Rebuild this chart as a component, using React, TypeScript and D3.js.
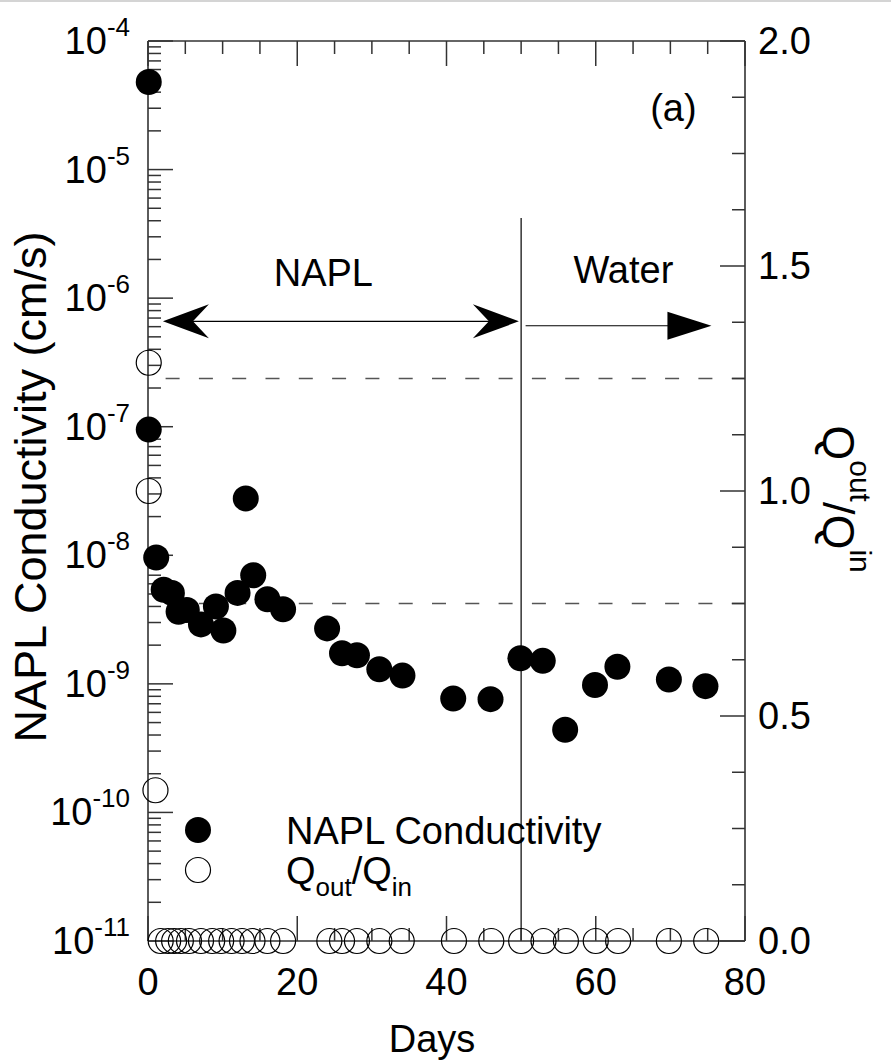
import React from "react";
import * as d3 from "d3";

// ---- data ----
const condDays = [0.1, 0.1, 1.1, 2.1, 3.2, 4.1, 5.2, 7.1, 9.1, 10.1, 12.0, 13.1, 14.1, 16.0, 18.1, 24.0, 26.0, 28.0, 31.0, 34.1, 40.9, 45.9, 49.9, 52.9, 55.9, 59.9, 62.9, 69.8, 74.7];
const condValues = [4.8e-5, 9.5e-8, 9.6e-9, 5.4e-9, 5.1e-9, 3.64e-9, 3.75e-9, 2.9e-9, 4.0e-9, 2.6e-9, 5.1e-9, 2.77e-8, 7.0e-9, 4.55e-9, 3.8e-9, 2.7e-9, 1.73e-9, 1.67e-9, 1.3e-9, 1.16e-9, 7.7e-10, 7.6e-10, 1.58e-9, 1.51e-9, 4.4e-10, 9.8e-10, 1.36e-9, 1.08e-9, 9.6e-10];
const qDays = [0.1, 0.1, 1.0, 1.7, 2.7, 3.5, 4.4, 5.5, 7.1, 8.6, 9.8, 11.2, 12.6, 14.0, 16.0, 18.1, 24.3, 26.0, 28.0, 31.0, 34.0, 41.0, 46.0, 50.0, 53.0, 56.0, 60.0, 63.0, 69.8, 74.8];
const qValues = [1.285, 1.0, 0.335, 0, 0, 0, 0, 0, 0, 0, 0, 0, 0, 0, 0, 0, 0, 0, 0, 0, 0, 0, 0, 0, 0, 0, 0, 0, 0, 0];
const xTickLabels = ["0", "20", "40", "60", "80"];
const xTicks = [0, 20, 40, 60, 80];
const decadeExps = [-11, -10, -9, -8, -7, -6, -5, -4];
const rightTicks = [0, 0.5, 1.0, 1.5, 2.0];
const rightTickLabels = ["0.0", "0.5", "1.0", "1.5", "2.0"];
const dashedLevels = [0.75, 1.25];
const phaseSplitDay = 50;
const phaseLineTop = 4.2e-6;
const napLArrow = { from: 2.0, to: 49.7, level: 6.6e-7 };
const waterArrow = { from: 50.6, to: 75.5, level: 6.1e-7 };

const FONT = "'Liberation Sans', Arial, Helvetica, sans-serif";

export default function App() {
  const W = 891, H = 1063;
  const x = d3.scaleLinear().domain([0, 80]).range([148, 745]);
  const yL = d3.scaleLog().domain([1e-11, 1e-4]).range([941, 41]);
  const yR = d3.scaleLinear().domain([0, 2]).range([941, 41]);
  const [x0, x1] = x.range();
  const [yb, yt] = yL.range();
  const axisColor = "#333";
  const majorLen = 25, minorLen = 13;

  const xMinor = d3.range(0, 81, 5).filter((d) => d % 20 !== 0);
  const logMinor: number[] = [];
  decadeExps.slice(0, -1).forEach((e) => {
    for (let k = 2; k <= 9; k++) logMinor.push(k * Math.pow(10, e));
  });
  const rMinor = d3.range(0, 2.0001, 0.125).filter((v) => Math.abs(v * 2 - Math.round(v * 2)) > 1e-6);

  const tickFont = 38;
  const supFont = 26;
  const titleFont = 45;
  const titleSub = 30;

  const notchedHead = (tx: number, y: number, dir: number) => {
    const L = 46, Wd = 17, N = 30;
    return `M${tx},${y} L${tx - dir * L},${y - Wd} L${tx - dir * N},${y} L${tx - dir * L},${y + Wd} Z`;
  };
  const triHead = (tx: number, y: number, dir: number) => {
    const L = 44, Wd = 14;
    return `M${tx},${y} L${tx - dir * L},${y - Wd} L${tx - dir * L},${y + Wd} Z`;
  };

  const ya1 = yL(napLArrow.level);
  const ya2 = yL(waterArrow.level);

  return (
    <svg width={W} height={H} style={{ position: "absolute", left: 0, top: 0, background: "#fff" }} fontFamily={FONT}>
      <rect x={0} y={0} width={W} height={2} fill="#d4d4d4" />
      {dashedLevels.map((v, i) => (
        <line key={"dash" + i} x1={x0} x2={x1} y1={yR(v)} y2={yR(v)} stroke="#555" strokeWidth={1.5} strokeDasharray="14 19.3" strokeDashoffset={15.7} />
      ))}
      <line x1={x(phaseSplitDay)} x2={x(phaseSplitDay)} y1={yL(phaseLineTop)} y2={yb} stroke="#000" strokeWidth={1.2} />

      <line x1={x0} x2={x1} y1={yb} y2={yb} stroke={axisColor} strokeWidth={1.6} />
      <line x1={x0} x2={x1} y1={yt} y2={yt} stroke={axisColor} strokeWidth={1.6} />
      <line x1={x0} x2={x0} y1={yt} y2={yb} stroke={axisColor} strokeWidth={1.6} />
      <line x1={x1} x2={x1} y1={yt} y2={yb} stroke={axisColor} strokeWidth={1.6} />

      {xTicks.map((d) => (
        <g key={"xt" + d}>
          <line x1={x(d)} x2={x(d)} y1={yb} y2={yb - majorLen} stroke={axisColor} strokeWidth={1.5} />
          <line x1={x(d)} x2={x(d)} y1={yt} y2={yt + majorLen} stroke={axisColor} strokeWidth={1.5} />
        </g>
      ))}
      {xMinor.map((d) => (
        <g key={"xm" + d}>
          <line x1={x(d)} x2={x(d)} y1={yb} y2={yb - minorLen} stroke={axisColor} strokeWidth={1.5} />
          <line x1={x(d)} x2={x(d)} y1={yt} y2={yt + minorLen} stroke={axisColor} strokeWidth={1.5} />
        </g>
      ))}
      {xTicks.map((d, i) => (
        <text key={"xl" + d} x={x(d)} y={yb + 54} fontSize={tickFont} textAnchor="middle" fill="#000">
          {xTickLabels[i]}
        </text>
      ))}

      {decadeExps.map((e) => (
        <line key={"ld" + e} x1={x0} x2={x0 + majorLen} y1={yL(Math.pow(10, e))} y2={yL(Math.pow(10, e))} stroke={axisColor} strokeWidth={1.5} />
      ))}
      {logMinor.map((v, i) => (
        <line key={"lm" + i} x1={x0} x2={x0 + minorLen} y1={yL(v)} y2={yL(v)} stroke={axisColor} strokeWidth={1.5} />
      ))}
      {decadeExps.map((e) => (
        <text key={"ll" + e} x={130} y={yL(Math.pow(10, e)) + 13} fontSize={tickFont} textAnchor="end" fill="#000">
          <tspan>10</tspan>
          <tspan fontSize={supFont} dy={-18}>{"-" + Math.abs(e)}</tspan>
        </text>
      ))}

      {rightTicks.map((v) => (
        <line key={"rt" + v} x1={x1} x2={x1 - majorLen} y1={yR(v)} y2={yR(v)} stroke={axisColor} strokeWidth={1.5} />
      ))}
      {rMinor.map((v, i) => (
        <line key={"rm" + i} x1={x1} x2={x1 - minorLen} y1={yR(v)} y2={yR(v)} stroke={axisColor} strokeWidth={1.5} />
      ))}
      {rightTicks.map((v, i) => (
        <text key={"rl" + v} x={x1 + 13} y={yR(v) + 13} fontSize={tickFont} textAnchor="start" fill="#000">
          {rightTickLabels[i]}
        </text>
      ))}

      {/* axis titles */}
      <text x={432} y={1052} fontSize={tickFont} textAnchor="middle" fill="#000">Days</text>
      <text transform={`translate(46,487) rotate(-90)`} fontSize={titleFont} textAnchor="middle" fill="#000">
        NAPL Conductivity (cm/s)
      </text>
      <text transform={`translate(823,499) rotate(90)`} fontSize={titleFont} textAnchor="middle" fill="#000">
        <tspan>Q</tspan>
        <tspan fontSize={titleSub} dy={-27}>out</tspan>
        <tspan dy={27}>/Q</tspan>
        <tspan fontSize={titleSub} dy={-27}>in</tspan>
      </text>

      {/* annotations */}
      <line x1={x(napLArrow.from) + 20} x2={x(napLArrow.to) - 20} y1={ya1} y2={ya1} stroke="#000" strokeWidth={1.2} />
      <path d={notchedHead(x(napLArrow.from), ya1, -1)} fill="#000" />
      <path d={notchedHead(x(napLArrow.to), ya1, 1)} fill="#000" />
      <line x1={x(waterArrow.from)} x2={x(waterArrow.to) - 30} y1={ya2} y2={ya2} stroke="#000" strokeWidth={1.2} />
      <path d={triHead(x(waterArrow.to), ya2, 1)} fill="#000" />
      <text x={x(23.5)} y={286} fontSize={tickFont} textAnchor="middle" fill="#000">NAPL</text>
      <text x={x(63.7)} y={283} fontSize={tickFont} textAnchor="middle" fill="#000">Water</text>
      <text x={x(70.4)} y={121} fontSize={tickFont} textAnchor="middle" fill="#000">(a)</text>

      {/* data */}
      {qDays.map((d, i) => (
        <circle key={"q" + i} cx={x(d)} cy={yR(qValues[i])} r={12.5} fill="none" stroke="#000" strokeWidth={1.2} />
      ))}
      {condDays.map((d, i) => (
        <circle key={"c" + i} cx={x(d)} cy={yL(condValues[i])} r={13} fill="#000" />
      ))}

      {/* legend */}
      <circle cx={198} cy={830} r={13} fill="#000" />
      <circle cx={198} cy={870} r={12.5} fill="none" stroke="#000" strokeWidth={1.2} />
      <text x={286} y={844} fontSize={tickFont} fill="#000">NAPL Conductivity</text>
      <text x={286} y={884} fontSize={tickFont} fill="#000">
        <tspan>Q</tspan>
        <tspan fontSize={supFont} dy={12}>out</tspan>
        <tspan dy={-12}>/Q</tspan>
        <tspan fontSize={supFont} dy={12}>in</tspan>
      </text>
    </svg>
  );
}
